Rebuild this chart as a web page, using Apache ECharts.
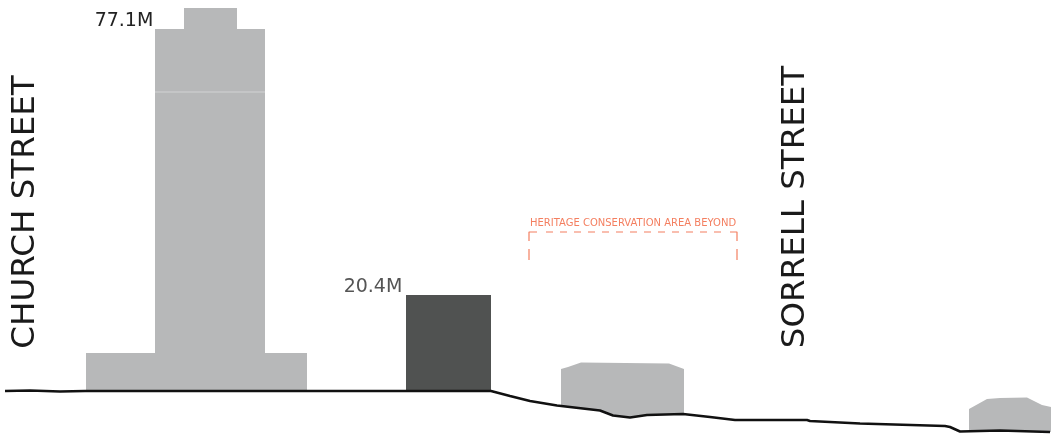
<!DOCTYPE html>
<html>
<head>
<meta charset="utf-8">
<style>html,body{margin:0;padding:0;background:#fff}#c{width:1051px;height:438px}</style>
<script src="https://cdn.jsdelivr.net/npm/echarts@6/dist/echarts.min.js"></script>
</head>
<body>
<div id="c"></div>
<script>
// Section drawing values, in drawing units along the street (x) and below datum (y)
var groundLine = [[5,391],[30,390.5],[60,391.5],[85,391],[491,391],[510,396],[530,401],[557,405.5],[600,410.5],[613,415.5],[630,417.5],[647,415],[683,414],[710,417],[735,420],[807,420],[810,421],[860,423.5],[945,426],[950,427],[960,431.5],[1000,430.5],[1050,432]];
var towerOutline = [[86,391],[86,353],[155,353],[155,29],[184,29],[184,8],[237,8],[237,29],[265,29],[265,353],[307,353],[307,391]];
var towerFloorLine = [[155,92],[265,92]];
var proposedBuilding = [[406,391],[406,295],[491,295],[491,391]];
var midBuilding = [[561,405.5],[561,369],[568,367],[581,362.5],[669,363.5],[684,369],[684,414],[647,415],[630,417.5],[613,415.5],[600,410.5]];
var endBuilding = [[969,431],[969,409],[987,399],[1000,398],[1027,397.5],[1042,405],[1051,407],[1051,432]];
var heritageLeftCorner = [[529,241],[529,232],[537,232]];
var heritageTop = [[546,232],[721,232]];
var heritageRightCorner = [[730,232],[737,232],[737,241]];
var heritageLeftTick = [[529,249],[529,260]];
var heritageRightTick = [[737,249],[737,260]];
var streetLabels = [[25.5,212,'CHURCH STREET'],[795.5,207,'SORRELL STREET']];
var heightLabels = [[124,21,'77.1M'],[373,287,'20.4M']];
var heritageLabels = [[633,223,'HERITAGE CONSERVATION AREA BEYOND']];

var FONT = '"DejaVu Sans", sans-serif';
function poly(points, color) {
  return {
    type: 'custom', coordinateSystem: 'cartesian2d', silent: true, animation: false,
    clip: false, data: [0],
    renderItem: function (p, api) {
      return { type: 'polygon',
        shape: { points: points.map(function (d) { return api.coord(d); }) },
        style: { fill: color } };
    }
  };
}
function line(points, color, width, dash) {
  return { type: 'line', data: points, symbol: 'none', silent: true, animation: false, z: 5,
    lineStyle: { color: color, width: width, type: dash || 'solid', cap: 'butt' } };
}
function texts(rows, size, color, rotation) {
  return {
    type: 'custom', coordinateSystem: 'cartesian2d', silent: true, animation: false,
    data: rows, z: 6,
    encode: { x: 0, y: 1 },
    renderItem: function (p, api) {
      var c = api.coord([api.value(0), api.value(1)]);
      return { type: 'text', x: c[0], y: c[1], rotation: rotation,
        style: { text: rows[p.dataIndex][2], font: size + 'px ' + FONT, fill: color,
                 align: 'center', verticalAlign: 'middle' } };
    }
  };
}
var ORANGE = '#f47f60';
var chart = echarts.init(document.getElementById('c'), null, { renderer: 'canvas' });
chart.setOption({
  backgroundColor: '#ffffff',
  animation: false,
  grid: { left: 0, right: 0, top: 0, bottom: 0 },
  xAxis: { type: 'value', min: 0, max: 1051, show: false },
  yAxis: { type: 'value', min: 0, max: 438, inverse: true, show: false },
  tooltip: { show: false },
  series: [
    poly(towerOutline, '#b7b8b9'),
    poly(proposedBuilding, '#505251'),
    poly(midBuilding, '#b7b8b9'),
    poly(endBuilding, '#b7b8b9'),
    line(towerFloorLine, '#d2d3d4', 1),
    line(groundLine, '#111111', 2.5),
    line(heritageLeftCorner, ORANGE, 1.2),
    line(heritageTop, ORANGE, 1.2, [7, 7]),
    line(heritageRightCorner, ORANGE, 1.2),
    line(heritageLeftTick, ORANGE, 1.2),
    line(heritageRightTick, ORANGE, 1.2),
    texts(streetLabels, 32.5, '#1a1a1a', Math.PI / 2),
    texts([heightLabels[0]], 19, '#222222', 0),
    texts([heightLabels[1]], 19, '#555555', 0),
    texts(heritageLabels, 10, ORANGE, 0)
  ]
});
</script>
</body>
</html>
